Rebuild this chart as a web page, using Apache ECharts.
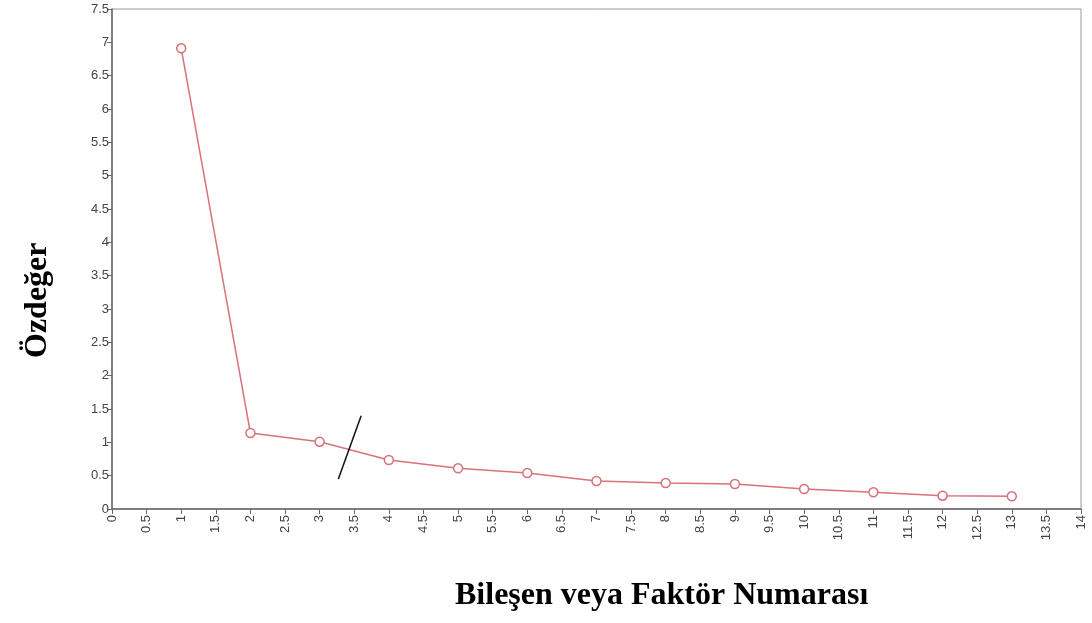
<!DOCTYPE html>
<html>
<head>
<meta charset="utf-8">
<script src="https://cdn.jsdelivr.net/npm/echarts@6/dist/echarts.min.js"></script>
<style>html,body{margin:0;padding:0;background:#fff;}#c{width:1092px;height:623px;}</style>
</head>
<body>
<div id="c"></div>
<script>
const factors = [1,2,3,4,5,6,7,8,9,10,11,12,13];
const eigenvalues = [6.91,1.14,1.01,0.735,0.61,0.54,0.42,0.39,0.375,0.30,0.25,0.20,0.19];
const cutX = [3.27, 3.60];
const cutY = [0.45, 1.40];
const yTitle = 'Özdeğer';
const xTitle = 'Bileşen veya Faktör Numarası';

const chart = echarts.init(document.getElementById('c'));
chart.setOption({
  animation:false,
  grid:{left:112,right:11,top:9,bottom:114,show:true,borderColor:'#9a9a9a',borderWidth:1},
  xAxis:{type:'value',min:0,max:14,interval:0.5,
    axisLine:{show:true,onZero:false,lineStyle:{color:'#666',width:1.5}},
    axisTick:{show:true,length:5,lineStyle:{color:'#666'}},
    splitLine:{show:false},
    axisLabel:{rotate:90,color:'#444',fontSize:13,fontFamily:'Arial, Liberation Sans',margin:6}
  },
  yAxis:{type:'value',min:0,max:7.5,interval:0.5,
    axisLine:{show:true,lineStyle:{color:'#666',width:1.5}},
    axisTick:{show:true,length:5,lineStyle:{color:'#666'}},
    splitLine:{show:false},
    axisLabel:{color:'#444',fontSize:13,fontFamily:'Arial, Liberation Sans',margin:3}
  },
  series:[
    {type:'line',data:factors.map((f,i)=>[f,eigenvalues[i]]),
     symbol:'circle',symbolSize:9,showSymbol:true,
     lineStyle:{color:'#d9727a',width:1.5},
     itemStyle:{color:'#fff',borderColor:'#d9727a',borderWidth:1.5}},
    {type:'line',data:cutX.map((x,i)=>[x,cutY[i]]),symbol:'none',
     lineStyle:{color:'#111',width:1.5}}
  ],
  graphic:[
    {type:'text',left:455,top:580,style:{text:xTitle,font:'bold 32px "Liberation Serif", "Times New Roman", serif',fill:'#000'}},
    {type:'text',x:22,y:358,rotation:Math.PI/2,style:{text:yTitle,font:'bold 32px "Liberation Serif", "Times New Roman", serif',fill:'#000'}}
  ]
});
</script>
</body>
</html>
